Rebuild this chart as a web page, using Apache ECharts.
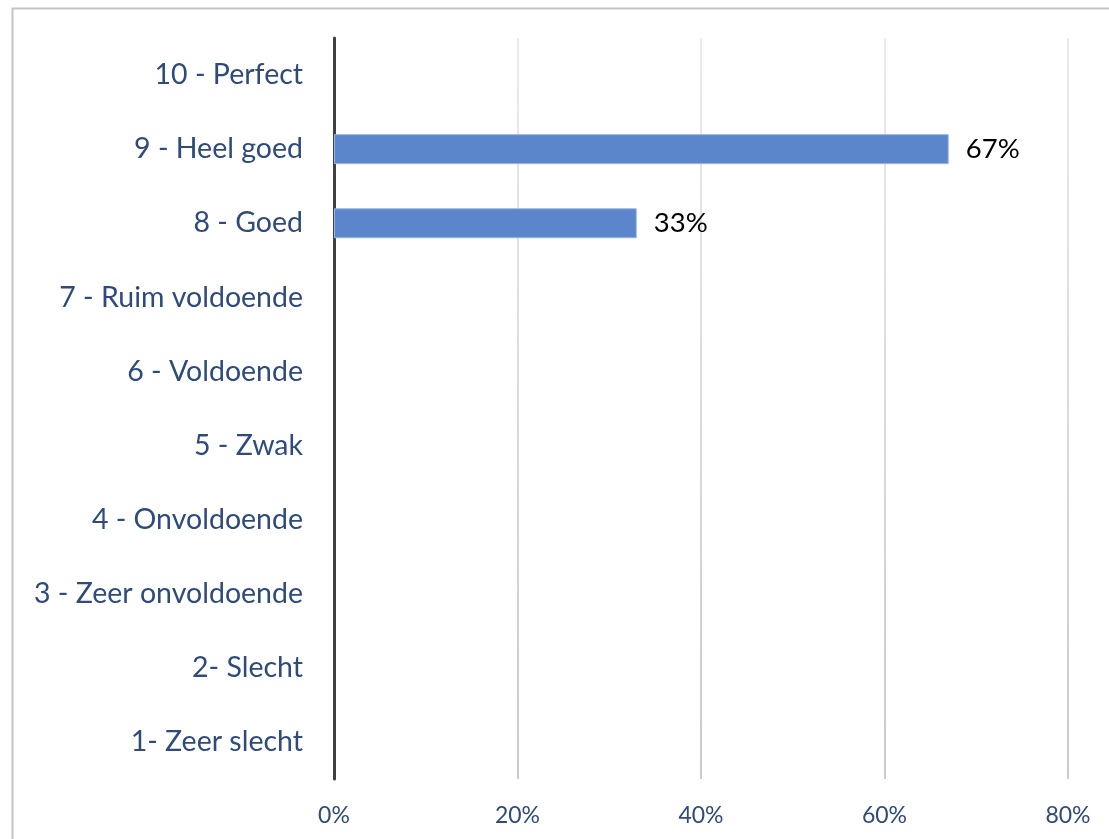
<!DOCTYPE html>
<html>
<head>
<meta charset="utf-8">
<script src="https://cdn.jsdelivr.net/npm/echarts@6/dist/echarts.min.js"></script>
<style>
  html, body { margin: 0; padding: 0; background: #ffffff; }
  #chart { width: 1109px; height: 839px; }
</style>
</head>
<body>
<div id="chart"></div>
<script>
// Rating categories, bottom to top
const categories = [
  '1- Zeer slecht',
  '2- Slecht',
  '3 - Zeer onvoldoende',
  '4 - Onvoldoende',
  '5 - Zwak',
  '6 - Voldoende',
  '7 - Ruim voldoende',
  '8 - Goed',
  '9 - Heel goed',
  '10 - Perfect'
];
// Share of respondents per rating (fraction)
const shares = [null, null, null, null, null, null, null, 0.33, 0.67, null];
// Value axis range
const axisMin = 0;
const axisMax = 0.8;
const axisStep = 0.2;

const FONT = 'Lato, "Open Sans", sans-serif';
const GRID_TOP = 38;
const GRID_BOTTOM = 60;
const chart = echarts.init(document.getElementById('chart'), null, { renderer: 'canvas' });

// Gridlines fade from light at the top to a slightly darker grey at the bottom
const gridFade = new echarts.graphic.LinearGradient(0, GRID_TOP, 0, 839 - GRID_BOTTOM, [
  { offset: 0, color: '#e4e4e4' },
  { offset: 1, color: '#b8b8b8' }
], true);

chart.setOption({
  animation: false,
  backgroundColor: '#ffffff',
  graphic: [{
    type: 'rect',
    shape: { x: 12.5, y: 8.5, width: 1200, height: 900 },
    style: { fill: 'none', stroke: '#c4c4c4', lineWidth: 2 },
    silent: true,
    z: -1
  }],
  grid: { left: 334, right: 41, top: GRID_TOP, bottom: GRID_BOTTOM, containLabel: false },
  xAxis: {
    type: 'value',
    min: axisMin,
    max: axisMax,
    interval: axisStep,
    axisLine: { show: false },
    axisTick: { show: false },
    splitLine: { show: true, lineStyle: { color: gridFade, width: 1.5 } },
    axisLabel: {
      margin: 25,
      color: '#2f4b7c',
      fontFamily: FONT,
      fontSize: 23,
      formatter: v => Math.round(v * 100) + '%'
    }
  },
  yAxis: {
    type: 'category',
    data: categories,
    axisLine: { show: true, lineStyle: { color: '#404040', width: 3 } },
    axisTick: { show: false },
    splitLine: { show: false },
    axisLabel: {
      margin: 31,
      color: '#2f4b7c',
      fontFamily: FONT,
      fontSize: 28.5
    }
  },
  series: [{
    type: 'bar',
    data: shares,
    barWidth: 30,
    itemStyle: { color: '#5b86cc', borderColor: '#9ab6e2', borderWidth: 1 },
    label: {
      show: true,
      position: 'right',
      distance: 17,
      color: '#000000',
      fontFamily: FONT,
      fontSize: 27.5,
      formatter: p => Math.round(p.value * 100) + '%'
    }
  }]
});
</script>
</body>
</html>
